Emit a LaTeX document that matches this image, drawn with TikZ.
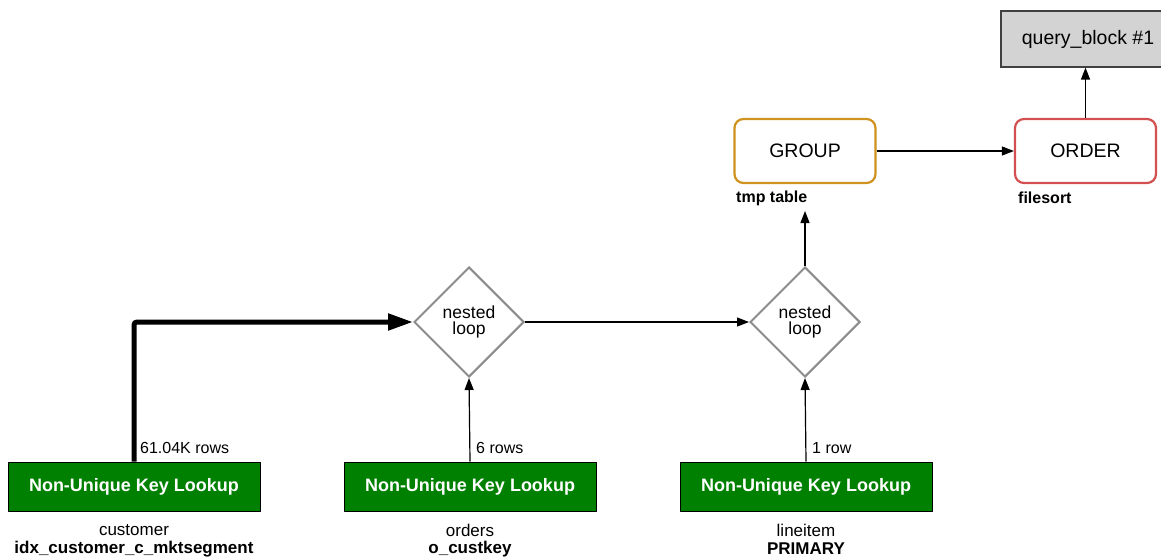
\documentclass[tikz,border=0pt]{standalone}
\usepackage{fontspec}
\setmainfont{Liberation Sans}
\usetikzlibrary{shapes.geometric,arrows.meta}
\definecolor{boxgray}{RGB}{211,211,211}
\definecolor{edgegray}{RGB}{64,64,64}
\definecolor{groupline}{RGB}{208,146,30}
\definecolor{orderline}{RGB}{210,80,80}
\definecolor{loopline}{RGB}{140,140,140}
\definecolor{lookupgreen}{RGB}{0,128,0}
\tikzset{
  qblock/.style={draw=edgegray, fill=boxgray, line width=1.2pt, minimum width=174pt, minimum height=56pt, inner sep=0pt, font=\fontsize{19.5}{21}\selectfont},
  opbox/.style={draw=#1, rounded corners=9pt, line width=2.2pt, fill=white, minimum width=141pt, minimum height=64pt, inner sep=0pt, font=\fontsize{19.5}{21}\selectfont},
  loopnode/.style={draw=loopline, line width=2pt, diamond, aspect=1, minimum width=110pt, minimum height=110pt, inner sep=0pt, align=center, font=\fontsize{17.5}{17}\selectfont},
  lookup/.style={draw=black, fill=lookupgreen, line width=1pt, minimum width=252pt, minimum height=49pt, inner sep=0pt, text=white, font=\bfseries\fontsize{18}{20}\selectfont},
  note/.style={font=\fontsize{16}{18}\selectfont, inner sep=0pt},
  bnote/.style={font=\bfseries\fontsize{16}{18}\selectfont, inner sep=0pt},
  tname/.style={font=\fontsize{17}{19}\selectfont, inner sep=0pt},
  kname/.style={font=\bfseries\fontsize{17}{19}\selectfont, inner sep=0pt},
  flow/.style={draw=black, line width=1.2pt, -{Triangle[length=12pt,width=9pt]}},
  heavy/.style={draw=black, line width=5pt, rounded corners=3pt, -{Triangle[length=25pt,width=16pt]}},
}
\begin{document}
\begin{tikzpicture}[x=1pt,y=-1pt]
\useasboundingbox (0,0) rectangle (1161,559);

% operator nodes
\node[qblock] (qb) at (1088,39) {query\_block \#1};
\node[opbox=groupline] (grp) at (805,151) {GROUP};
\node[opbox=orderline] (ord) at (1085.5,151) {ORDER};
\node[bnote, anchor=west] (grpn) at (736,198) {tmp table};
\node[bnote, anchor=west] (ordn) at (1018,198) {filesort};
\coordinate (grpin) at (805,211);

% nested loop joins
\node[loopnode] (nl1) at (469,322) {nested\\[-1pt]loop};
\node[loopnode] (nl2) at (805,322) {nested\\[-1pt]loop};

% table access boxes
\node[lookup] (l1) at (134,486.5) {Non-Unique Key Lookup};
\node[lookup] (l2) at (470,486.5) {Non-Unique Key Lookup};
\node[lookup] (l3) at (806,486.5) {Non-Unique Key Lookup};

\node[tname] (t1) at (134,530) {customer};
\node[kname] (k1) at (134,549) {idx\_customer\_c\_mktsegment};
\node[tname] (t2) at (470,530) {orders};
\node[kname] (k2) at (470,549) {o\_custkey};
\node[tname] (t3) at (806,530) {lineitem};
\node[kname] (k3) at (806,549) {PRIMARY};

% row estimates
\node[note, anchor=west] (r1) at (140,448) {61.04K rows};
\node[note, anchor=west] (r2) at (476,448) {6 rows};
\node[note, anchor=west] (r3) at (812,448) {1 row};

% connectors
\draw[heavy] (l1.north) -- (l1.north |- nl1.west) -- (nl1.west);
\draw[flow] (l2.north) -- (nl1.south);
\draw[flow] (l3.north) -- (nl2.south);
\draw[flow] (nl1.east) -- (nl2.west);
\draw[flow] (nl2.north) -- (grpin);
\draw[flow] (grp.east) -- (ord.west);
\draw[flow] (ord.north) -- (qb.south -| ord.north);
\end{tikzpicture}
\end{document}
